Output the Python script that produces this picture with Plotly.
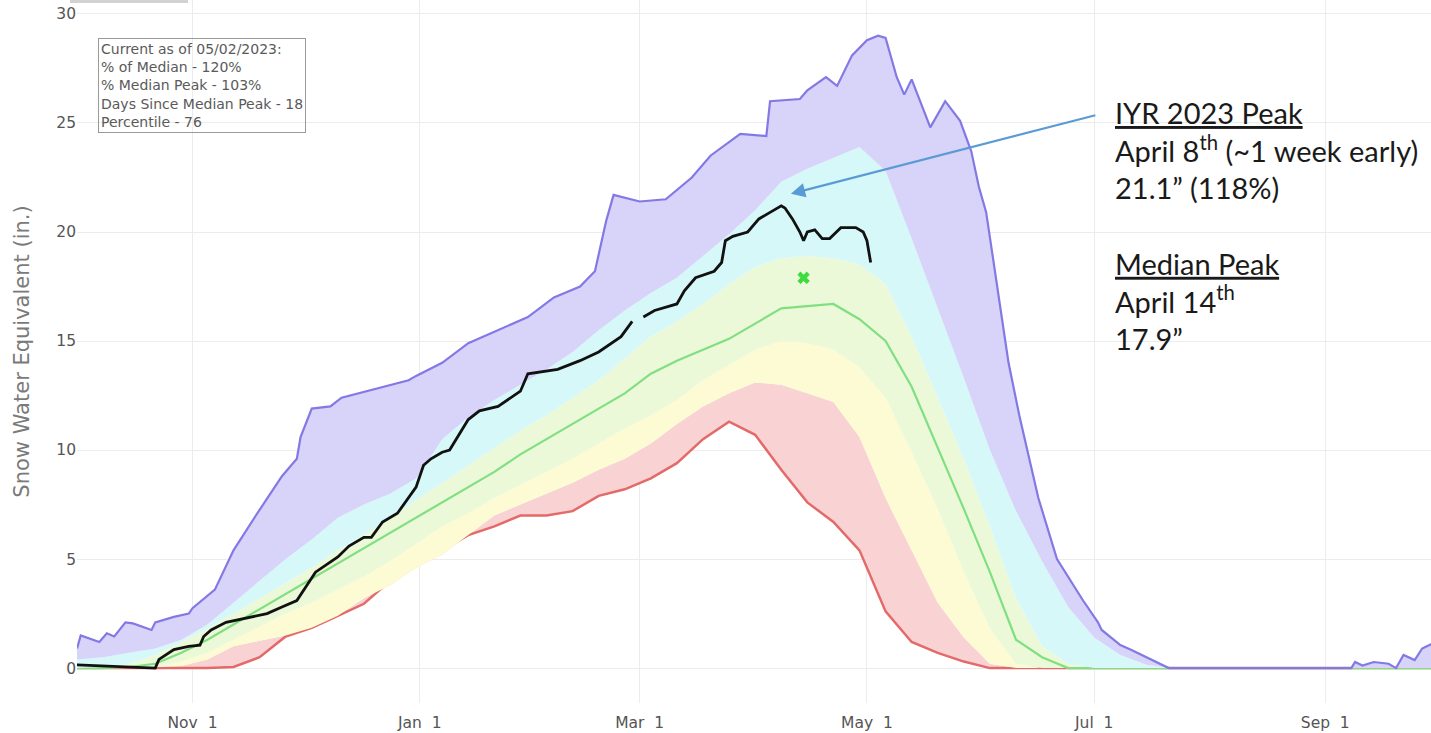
import pandas as pd
import plotly.graph_objects as go

# ---- data (water year Oct 1 2022 - Sep 30 2023), weekly percentile grid ----
week_dates = pd.date_range("2022-10-01", periods=53, freq="7D")

min_swe = [0, 0, 0, 0, 0, 0, 0.05, 0.5, 1.45, 1.85, 2.4, 2.95, 4.0, 4.8, 5.4, 6.1, 6.5, 7.0,
           7.0, 7.2, 7.9, 8.2, 8.7, 9.4, 10.5, 11.3, 10.7, 9.1, 7.6, 6.7, 5.4, 2.6, 1.2, 0.7,
           0.3, 0, 0, 0, 0, 0, 0, 0, 0, 0, 0, 0, 0, 0, 0, 0, 0, 0, 0]
p10_swe = [0, 0, 0, 0.05, 0.1, 0.4, 1.0, 1.25, 1.5, 1.85, 2.4, 3.2, 3.8, 4.6, 5.2, 6.1, 7.0,
           7.5, 8.0, 8.5, 9.1, 9.6, 10.3, 11.2, 12.0, 12.6, 13.1, 13.0, 12.6, 12.2, 10.6, 7.8,
           5.4, 3.0, 1.4, 0.2, 0, 0, 0, 0, 0, 0, 0, 0, 0, 0, 0, 0, 0, 0, 0, 0, 0]
p30_swe = [0, 0, 0, 0.05, 0.3, 0.7, 1.3, 1.9, 2.5, 3.0, 3.6, 4.2, 4.9, 5.7, 6.5, 7.1, 7.8,
           8.4, 9.0, 9.6, 10.3, 11.0, 11.6, 12.3, 13.2, 13.9, 14.6, 15.0, 14.9, 14.6, 13.8,
           12.4, 9.9, 7.3, 4.4, 1.8, 0.2, 0, 0, 0, 0, 0, 0, 0, 0, 0, 0, 0, 0, 0, 0, 0, 0]
median_swe = [0, 0, 0.05, 0.2, 0.7, 1.3, 2.0, 2.7, 3.4, 4.1, 4.8, 5.5, 6.2, 6.9, 7.6, 8.3,
              9.0, 9.8, 10.5, 11.2, 11.9, 12.6, 13.5, 14.1, 14.6, 15.1, 15.8, 16.5, 16.6,
              16.7, 16.0, 15.0, 12.9, 10.1, 7.3, 4.4, 1.3, 0.5, 0, 0, 0, 0, 0, 0, 0, 0, 0,
              0, 0, 0, 0, 0, 0]
p70_swe = [0, 0.05, 0.2, 0.6, 1.2, 1.8, 2.5, 3.2, 3.9, 4.6, 5.4, 6.1, 6.9, 7.7, 8.5, 9.3,
           10.1, 10.9, 11.6, 12.4, 13.2, 14.2, 15.2, 15.9, 16.7, 17.6, 18.4, 18.8, 18.9,
           18.8, 18.5, 17.6, 15.2, 12.4, 9.6, 6.5, 3.2, 1.0, 0.2, 0, 0, 0, 0, 0, 0, 0, 0,
           0, 0, 0, 0, 0, 0]
p90_swe = [0.4, 0.5, 0.7, 0.9, 1.3, 2.0, 3.0, 4.0, 5.0, 5.9, 6.9, 7.5, 8.0, 8.7, 10.5, 11.5,
           12.3, 13.0, 13.7, 14.5, 15.5, 16.4, 17.2, 17.9, 18.9, 19.9, 21.0, 22.3, 22.9,
           23.4, 23.9, 22.8, 19.7, 16.5, 13.3, 10.0, 7.2, 4.9, 2.8, 1.4, 0.6, 0.15, 0, 0,
           0, 0, 0, 0, 0, 0, 0, 0, 0]

max_dates = ["2022-10-01", "2022-10-02", "2022-10-07", "2022-10-09", "2022-10-11",
             "2022-10-14", "2022-10-16", "2022-10-21", "2022-10-22", "2022-10-27",
             "2022-10-31", "2022-11-01", "2022-11-07", "2022-11-12", "2022-11-18",
             "2022-11-25", "2022-11-29", "2022-11-30", "2022-12-03", "2022-12-08",
             "2022-12-11", "2022-12-22", "2022-12-29", "2022-12-31", "2023-01-07",
             "2023-01-14", "2023-01-22", "2023-01-30", "2023-02-06", "2023-02-13",
             "2023-02-17", "2023-02-20", "2023-02-22", "2023-03-01", "2023-03-08",
             "2023-03-15", "2023-03-20", "2023-03-28", "2023-04-04", "2023-04-05",
             "2023-04-13", "2023-04-15", "2023-04-20", "2023-04-23", "2023-04-27",
             "2023-05-01", "2023-05-04", "2023-05-06", "2023-05-09", "2023-05-11",
             "2023-05-13", "2023-05-18", "2023-05-22", "2023-05-26", "2023-05-29",
             "2023-05-31", "2023-06-02", "2023-06-05", "2023-06-08", "2023-06-11",
             "2023-06-16", "2023-06-21", "2023-06-28", "2023-07-02", "2023-07-03",
             "2023-07-08", "2023-07-11", "2023-07-21", "2023-09-08", "2023-09-09",
             "2023-09-11", "2023-09-14", "2023-09-18", "2023-09-20", "2023-09-22",
             "2023-09-25", "2023-09-27", "2023-09-30"]
max_swe = [0.9, 1.5, 1.2, 1.6, 1.45, 2.1, 2.05, 1.75, 2.1, 2.35, 2.5, 2.75, 3.6, 5.4, 7.0,
           8.8, 9.6, 10.6, 11.9, 12.0, 12.4, 12.9, 13.2, 13.4, 14.0, 14.9, 15.5, 16.1, 17.0,
           17.5, 18.2, 20.5, 21.7, 21.4, 21.5, 22.5, 23.5, 24.5, 24.4, 26.0, 26.1, 26.5,
           27.1, 26.7, 28.1, 28.8, 29.0, 28.9, 27.1, 26.3, 27.0, 24.8, 26.0, 25.1, 23.7,
           22.1, 20.9, 17.5, 14.0, 11.5, 7.8, 5.0, 3.1, 2.1, 1.75, 1.06, 0.83, 0.0, 0.0,
           0.28, 0.12, 0.28, 0.2, 0.0, 0.6, 0.37, 0.9, 1.15]

wy2023_dates = ["2022-10-01", "2022-10-07", "2022-10-16", "2022-10-22", "2022-10-23",
                "2022-10-27", "2022-10-31", "2022-11-03", "2022-11-04", "2022-11-06",
                "2022-11-10", "2022-11-16", "2022-11-21", "2022-11-25", "2022-11-29",
                "2022-12-04", "2022-12-10", "2022-12-13", "2022-12-17", "2022-12-19",
                "2022-12-22", "2022-12-26", "2022-12-28", "2022-12-31", "2023-01-02",
                "2023-01-04", "2023-01-07", "2023-01-09", "2023-01-14", "2023-01-17",
                "2023-01-22", "2023-01-28", "2023-01-30", "2023-02-07", "2023-02-13",
                "2023-02-18", "2023-02-24", "2023-02-27", "2023-02-28", "2023-03-02",
                "2023-03-05", "2023-03-09", "2023-03-11", "2023-03-13", "2023-03-16",
                "2023-03-21", "2023-03-23", "2023-03-24", "2023-03-26", "2023-03-30",
                "2023-04-02", "2023-04-05", "2023-04-08", "2023-04-09", "2023-04-11",
                "2023-04-13", "2023-04-14", "2023-04-15", "2023-04-17", "2023-04-19",
                "2023-04-21", "2023-04-24", "2023-04-27", "2023-04-28", "2023-04-30",
                "2023-05-01", "2023-05-02"]
wy2023_swe = [0.15, 0.1, 0.02, 0.0, 0.4, 0.85, 1.0, 1.05, 1.45, 1.75, 2.1, 2.3, 2.5, 2.8,
              3.1, 4.4, 5.1, 5.6, 6.0, 6.0, 6.7, 7.1, 7.6, 8.3, 9.3, 9.6, 9.9, 10.0, 11.4,
              11.8, 12.0, 12.7, 13.5, 13.7, 14.1, 14.5, 15.2, 15.9, None, 16.1, 16.4, 16.6,
              16.7, 17.3, 17.9, 18.2, 18.6, 19.6, 19.8, 20.0, 20.6, 20.9, 21.2, 21.1, 20.6,
              20.0, 19.6, 20.0, 20.1, 19.7, 19.7, 20.2, 20.2, 20.2, 20.0, 19.6, 18.6]

median_peak_date = ["2023-04-14"]
median_peak_swe = [17.9]

info_lines = ["Current as of 05/02/2023:", "% of Median - 120%", "% Median Peak - 103%",
              "Days Since Median Peak - 18", "Percentile - 76"]

# ---- figure ----
fig = go.Figure()
fig.add_trace(go.Scatter(x=week_dates, y=min_swe, mode="lines",
                         line=dict(color="#e46a6a", width=2.5), name="Min"))
fig.add_trace(go.Scatter(x=week_dates, y=p10_swe, mode="lines", line=dict(width=0),
                         fill="tonexty", fillcolor="#f9d3d3", name="10%"))
fig.add_trace(go.Scatter(x=week_dates, y=p30_swe, mode="lines", line=dict(width=0),
                         fill="tonexty", fillcolor="#fcfbd3", name="30%"))
fig.add_trace(go.Scatter(x=week_dates, y=median_swe, mode="lines",
                         line=dict(color="#80df80", width=2.2),
                         fill="tonexty", fillcolor="#ebf9d9", name="Median"))
fig.add_trace(go.Scatter(x=week_dates, y=p70_swe, mode="lines", line=dict(width=0),
                         fill="tonexty", fillcolor="#ebf9d9", name="70%"))
fig.add_trace(go.Scatter(x=week_dates, y=p90_swe, mode="lines", line=dict(width=0),
                         fill="tonexty", fillcolor="#d6f8f8", name="90%"))
fig.add_trace(go.Scatter(x=max_dates, y=max_swe, mode="lines",
                         line=dict(color="#8279e4", width=2.2),
                         fill="tonexty", fillcolor="#d7d3f9", name="Max"))
fig.add_trace(go.Scatter(x=wy2023_dates, y=wy2023_swe, mode="lines",
                         line=dict(color="#111111", width=2.8), connectgaps=False,
                         name="WY2023"))
fig.add_trace(go.Scatter(x=median_peak_date, y=median_peak_swe, mode="markers",
                         marker=dict(symbol="x", size=11, color="#3ddc3d",
                                     line=dict(width=0)), name="Median Peak"))

W, H = 1431, 733
L, R, T, B = 77, 0, 0, 30
pw, ph = W - L - R, H - T - B


def px_x(x):
    return (x - L) / pw


def px_y(y):
    return 1 - (y - T) / ph


annotations = [
    dict(xref="paper", yref="paper", x=px_x(98), y=px_y(38), xanchor="left", yanchor="top",
         text="<br>".join(info_lines), showarrow=False, align="left",
         font=dict(family="DejaVu Sans", size=14, color="#5a5a5a"),
         bordercolor="#9a9a9a", borderwidth=1, borderpad=2, bgcolor="rgba(255,255,255,0)"),
    dict(x="2023-04-10 14:00", y=21.75, ax=306, ay=-79, text="", showarrow=True,
         arrowhead=2, arrowsize=1.3, arrowwidth=2.2, arrowcolor="#5b9bd5", standoff=0),
    dict(xref="paper", yref="paper", x=px_x(1113), y=px_y(93), xanchor="left",
         yanchor="top", showarrow=False, align="left",
         text=("<u>IYR 2023 Peak</u><br>April 8<sup>th</sup> (~1 week early)<br>"
               "21.1\u201d (118%)<br> <br><u>Median Peak</u><br>April 14<sup>th</sup><br>"
               "17.9\u201d"),
         font=dict(family="Lato", size=29, color="#1a1a1a")),
]

fig.update_layout(
    width=W, height=H,
    margin=dict(l=L, r=R, t=T, b=B),
    paper_bgcolor="white", plot_bgcolor="white",
    showlegend=False,
    font=dict(family="DejaVu Sans", color="#555555"),
    annotations=annotations,
    shapes=[dict(type="rect", xref="paper", yref="paper", x0=px_x(70), x1=px_x(188),
                 y0=px_y(3), y1=1.0, fillcolor="#d2d2d2", line=dict(width=0))],
    xaxis=dict(type="date", range=["2022-10-01", "2023-09-29 09:00"],
               tick0="2022-11-01", dtick="M2", tickformat="%b %e",
               showgrid=True, gridcolor="#ececec", gridwidth=1, zeroline=False,
               showline=False, ticks="", ticklabelstandoff=8,
               tickfont=dict(size=15.5, color="#555555")),
    yaxis=dict(range=[-1.6, 30.64], dtick=5, tick0=0, showgrid=True,
               gridcolor="#ececec", gridwidth=1, zeroline=False, showline=False,
               tickfont=dict(size=15.5, color="#555555"),
               title=dict(text="Snow Water Equivalent (in.)",
                          font=dict(size=21, color="#7a7a7a"), standoff=20)),
)

fig.write_html("out.html", config={"displayModeBar": False},
               post_script="document.body.style.margin='0';")
